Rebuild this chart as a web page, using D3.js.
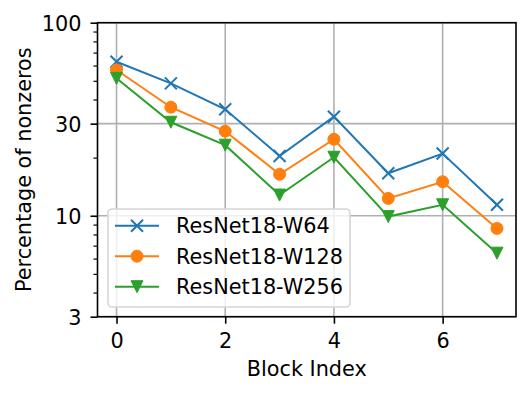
<!DOCTYPE html>
<html>
<head>
<meta charset="utf-8">
<script src="https://cdn.jsdelivr.net/npm/d3@7"></script>
<style>
    body { margin: 0; background: #fff; }
    svg { display: block; font-family: "DejaVu Sans", sans-serif; }
</style>
</head>
<body>
<svg id="chart" width="531" height="395"></svg>
<script>
// data
const blocks = [0, 1, 2, 3, 4, 5, 6, 7];
const w64 = [62.8, 48.5, 35.6, 20.4, 32.6, 16.6, 21.0, 11.4];
const w128 = [56.9, 36.5, 27.4, 16.4, 24.9, 12.3, 15.0, 8.6];
const w256 = [51.5, 30.5, 23.2, 12.8, 20.1, 9.9, 11.4, 6.4];
const seriesNames = ["ResNet18-W64", "ResNet18-W128", "ResNet18-W256"];
const xTicks = [0, 2, 4, 6];
const yTicks = [3, 10, 30, 100];
const yMinor = [4, 5, 6, 7, 8, 9, 20, 40, 50, 60, 70, 80, 90];

const colors = ["#1f77b4", "#ff7f0e", "#2ca02c"];
const symbols = ["x", "o", "v"];
const series = [w64, w128, w256];

const pLeft = 97.5, pRight = 516, pTop = 22.7, pBottom = 316.7;
const fs = 20.8;

const svg = d3.select("#chart");

const x = d3.scaleLinear().domain([-0.35, 7.35]).range([pLeft, pRight]);
const y = d3.scaleLog().domain([3, 100]).range([pBottom, pTop]);

// grid
const grid = svg.append("g");
grid.selectAll(".gx")
    .data(xTicks)
    .enter()
    .append("line")
        .attr("x1", d => x(d)).attr("x2", d => x(d))
        .attr("y1", pTop).attr("y2", pBottom)
        .attr("stroke", "#b0b0b0").attr("stroke-width", 1.6);
grid.selectAll(".gy")
    .data(yTicks)
    .enter()
    .append("line")
        .attr("x1", pLeft).attr("x2", pRight)
        .attr("y1", d => y(d)).attr("y2", d => y(d))
        .attr("stroke", "#b0b0b0").attr("stroke-width", 1.6);

// lines + markers
function drawMarker(g, type, color, cx, cy) {
    if (type === "o") {
        g.append("circle")
            .attr("cx", cx).attr("cy", cy).attr("r", 6)
            .attr("fill", color).attr("stroke", color).attr("stroke-width", 1);
    } else if (type === "x") {
        g.append("path")
            .attr("d", `M${cx - 6},${cy - 6}L${cx + 6},${cy + 6}M${cx - 6},${cy + 6}L${cx + 6},${cy - 6}`)
            .attr("stroke", color).attr("stroke-width", 2).attr("fill", "none");
    } else {
        g.append("path")
            .attr("d", `M${cx - 6},${cy - 6}L${cx + 6},${cy - 6}L${cx},${cy + 6}Z`)
            .attr("fill", color).attr("stroke", color).attr("stroke-width", 1).attr("stroke-linejoin", "miter");
    }
}

const line = d3.line()
    .x((d, i) => x(blocks[i]))
    .y(d => y(d));

const plot = svg.append("g");
series.forEach(function(vals, k) {
    plot.append("path")
        .datum(vals)
        .attr("d", line)
        .attr("fill", "none")
        .attr("stroke", colors[k])
        .attr("stroke-width", 2);
    vals.forEach(function(v, i) {
        drawMarker(plot, symbols[k], colors[k], x(blocks[i]), y(v));
    });
});

// axes
const xAxis = svg.append("g")
    .attr("transform", "translate(0," + pBottom + ")")
    .call(d3.axisBottom(x).tickValues(xTicks).tickSize(7).tickPadding(10).tickSizeOuter(0));
const yAxis = svg.append("g")
    .attr("transform", "translate(" + pLeft + ",0)")
    .call(d3.axisLeft(y).tickValues(yTicks).tickFormat(d3.format("d")).tickSize(7).tickPadding(10).tickSizeOuter(0));
svg.append("g")
    .attr("transform", "translate(" + pLeft + ",0)")
    .call(d3.axisLeft(y).tickValues(yMinor).tickFormat("").tickSize(4).tickSizeOuter(0))
    .call(g => g.select(".domain").remove())
    .selectAll("line").attr("stroke-width", 1.2).attr("stroke", "#000");

[xAxis, yAxis].forEach(function(a) {
    a.select(".domain").remove();
    a.selectAll("line").attr("stroke", "#000").attr("stroke-width", 1.6);
    a.selectAll("text").attr("font-size", fs).attr("fill", "#000")
        .attr("font-family", "DejaVu Sans");
});
xAxis.selectAll("text").attr("dy", null).attr("y", 31);
yAxis.selectAll("text").attr("dy", null).attr("y", 7.6).attr("x", -16);

// frame
svg.append("rect")
    .attr("x", pLeft).attr("y", pTop)
    .attr("width", pRight - pLeft).attr("height", pBottom - pTop)
    .attr("fill", "none").attr("stroke", "#000").attr("stroke-width", 1.6);

// labels
svg.append("text")
    .attr("x", (pLeft + pRight) / 2).attr("y", 376)
    .attr("text-anchor", "middle").attr("font-size", fs)
    .text("Block Index");
svg.append("text")
    .attr("transform", "translate(31," + (pTop + pBottom) / 2 + ")rotate(-90)")
    .attr("text-anchor", "middle").attr("font-size", fs)
    .text("Percentage of nonzeros");

// legend
const legend = svg.append("g");
legend.append("rect")
    .attr("x", 108).attr("y", 209).attr("width", 242).attr("height", 98)
    .attr("rx", 4)
    .attr("fill", "#fff").attr("fill-opacity", 0.8)
    .attr("stroke", "#d6d6d6").attr("stroke-width", 1.6);
seriesNames.forEach(function(name, k) {
    const ry = 225.7 + k * 30.5;
    legend.append("line")
        .attr("x1", 115).attr("x2", 159)
        .attr("y1", ry).attr("y2", ry)
        .attr("stroke", colors[k]).attr("stroke-width", 2);
    drawMarker(legend, symbols[k], colors[k], 137, ry);
    legend.append("text")
        .attr("x", 176).attr("y", ry + 7.5)
        .attr("font-size", fs)
        .text(name);
});
</script>
</body>
</html>
